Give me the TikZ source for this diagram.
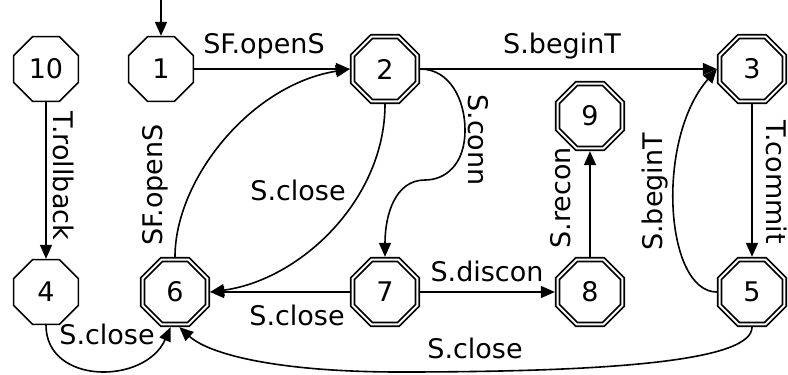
\documentclass[tikz,border=0pt]{standalone}
\usepackage{fontspec}
\setmainfont{DejaVu Sans}
\usetikzlibrary{shapes.geometric,arrows.meta}
\begin{document}
\begin{tikzpicture}[x=1pt,y=-1pt,
  every node/.style={font=\fontsize{27}{31}\selectfont},
  st/.style={regular polygon, regular polygon sides=8, minimum size=70pt, inner sep=0pt, draw, line width=1.6pt, outer sep=0.8pt},
  acc/.style={st, double, double distance=2pt, line width=1.8pt, outer sep=2.8pt},
  edge/.style={line width=1.6pt, -{Triangle[length=14pt,width=12pt]}},
  lbl/.style={inner sep=0pt, anchor=base}
]
\useasboundingbox (0,0) rectangle (788,375);
% states
\node[st]  (n10) at (46,69)  {10};
\node[st]  (n1)  at (161,69) {1};
\node[acc] (n2)  at (385,69) {2};
\node[acc] (n3)  at (752,69) {3};
\node[acc] (n9)  at (590,116) {9};
\node[st]  (n4)  at (46,292) {4};
\node[acc] (n6)  at (175,292) {6};
\node[acc] (n7)  at (385,292) {7};
\node[acc] (n8)  at (590,292) {8};
\node[acc] (n5)  at (752,292) {5};
\coordinate (init) at (161,0);
% edges
\draw[edge] (init) -- (n1.north);
\draw[edge] (n1) -- (n2);
\draw[edge] (n2) -- (n3);
\draw[edge] (n10) -- (n4);
\draw[edge] (n3) -- (n5);
\draw[edge] (n8) -- (n9);
\draw[edge] (n7) -- (n8);
\draw[edge] (n7) -- (n6);
\draw[edge] (n6.north) .. controls (175,180) and (250,85) .. (n2.west);
\draw[edge] (n2.south) .. controls (385,200) and (300,280) .. (n6.east);
\draw[edge] (n2.east) .. controls (450,69) and (465,100) .. (465,130)
  .. controls (465,165) and (445,180) .. (425,180)
  .. controls (395,180) and (385,215) .. (n7.north);
\draw[edge] (n5.west) .. controls (665,292) and (655,140) .. (n3.west);
\draw[edge] (n4.south) .. controls (46,385) and (145,385) .. (n6.-97);
\draw[edge] (n5.south) .. controls (752,360) and (620,372) .. (400,372)
  .. controls (280,372) and (210,355) .. (n6.-83);
% labels
\node[lbl] (l1) at (264,53) {SF.openS};
\node[lbl] (l2) at (562,53) {S.beginT};
\node[lbl] (l3) at (487,281) {S.discon};
\node[lbl] (l4) at (297,325) {S.close};
\node[lbl] (l5) at (107,344) {S.close};
\node[lbl] (l6) at (475,358) {S.close};
\node[lbl] (l7) at (298,200) {S.close};
\node[lbl, rotate=90] (l8) at (162,185) {SF.openS};
\node[lbl, rotate=90] (l9) at (570,198) {S.recon};
\node[lbl, rotate=90] (l10) at (662,192) {S.beginT};
\node[lbl, rotate=-90] (l11) at (53,176) {T.rollback};
\node[lbl, rotate=-90] (l12) at (766,182) {T.commit};
\node[lbl, rotate=-90] (l13) at (468,140) {S.conn};
\end{tikzpicture}
\end{document}
